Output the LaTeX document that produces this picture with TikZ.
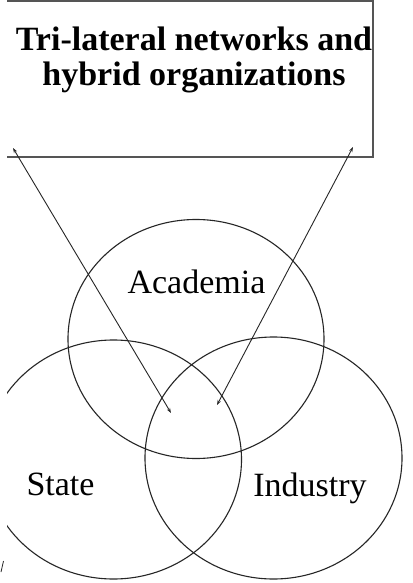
\documentclass[tikz,border=0pt]{standalone}
\usepackage{fontspec}
\setmainfont{Liberation Serif}
\usetikzlibrary{arrows.meta,shapes.geometric}
\definecolor{inkline}{HTML}{262626}
\definecolor{boxgray}{HTML}{555555}
\tikzset{
  venn/.style={ellipse, draw=inkline, line width=1.1pt, inner sep=0pt,
               minimum width=256pt, minimum height=239pt},
  label text/.style={font=\fontsize{34}{36}\selectfont, text=black, inner sep=0pt, anchor=base},
  title text/.style={font=\fontsize{34}{35}\selectfont\bfseries, align=center, inner sep=0pt},
  boxline/.style={draw=boxgray, line width=1.6pt},
  link/.style={draw=inkline, line width=0.9pt,
               {Stealth[length=5pt,width=3.5pt]}-{Stealth[length=5pt,width=3.5pt]}}
}
\begin{document}
\begin{tikzpicture}[x=1pt,y=-1pt]
\useasboundingbox (0,0) rectangle (412,583);
\fill[white] (0,0) rectangle (412,583);
\begin{scope}
  \clip (7,0) rectangle (412,583);
  \node[inner sep=0pt, minimum width=393pt, minimum height=155.5pt, anchor=south east] (box) at (373,157) {};
  \draw[boxline] (box.north west) -- (box.north east) -- (box.south east) -- (box.south west);
  \node[venn] (acad) at (196,339) {};
  \node[venn] (state) at (113.5,459.5) {};
  \node[venn, minimum width=257pt, minimum height=242pt] (ind) at (273.5,458) {};
\end{scope}
\node[title text] (title) at (194,60) {Tri-lateral networks and\\hybrid organizations};
\node[label text] (acadl) at (196.5,293) {Academia};
\node[label text] (statel) at (60.5,495) {State};
\node[label text] (indl) at (310,496) {Industry};
\coordinate (lt) at (13,148);
\coordinate (lh) at (171,413);
\coordinate (rt) at (353,147);
\coordinate (rh) at (217,405);
\draw[link] (lt) -- (lh);
\draw[link] (rt) -- (rh);
\coordinate (m1) at (1,572);
\coordinate (m2) at (3.5,561);
\draw[draw=inkline, line width=0.8pt] (m1) -- (m2);
\end{tikzpicture}
\end{document}
